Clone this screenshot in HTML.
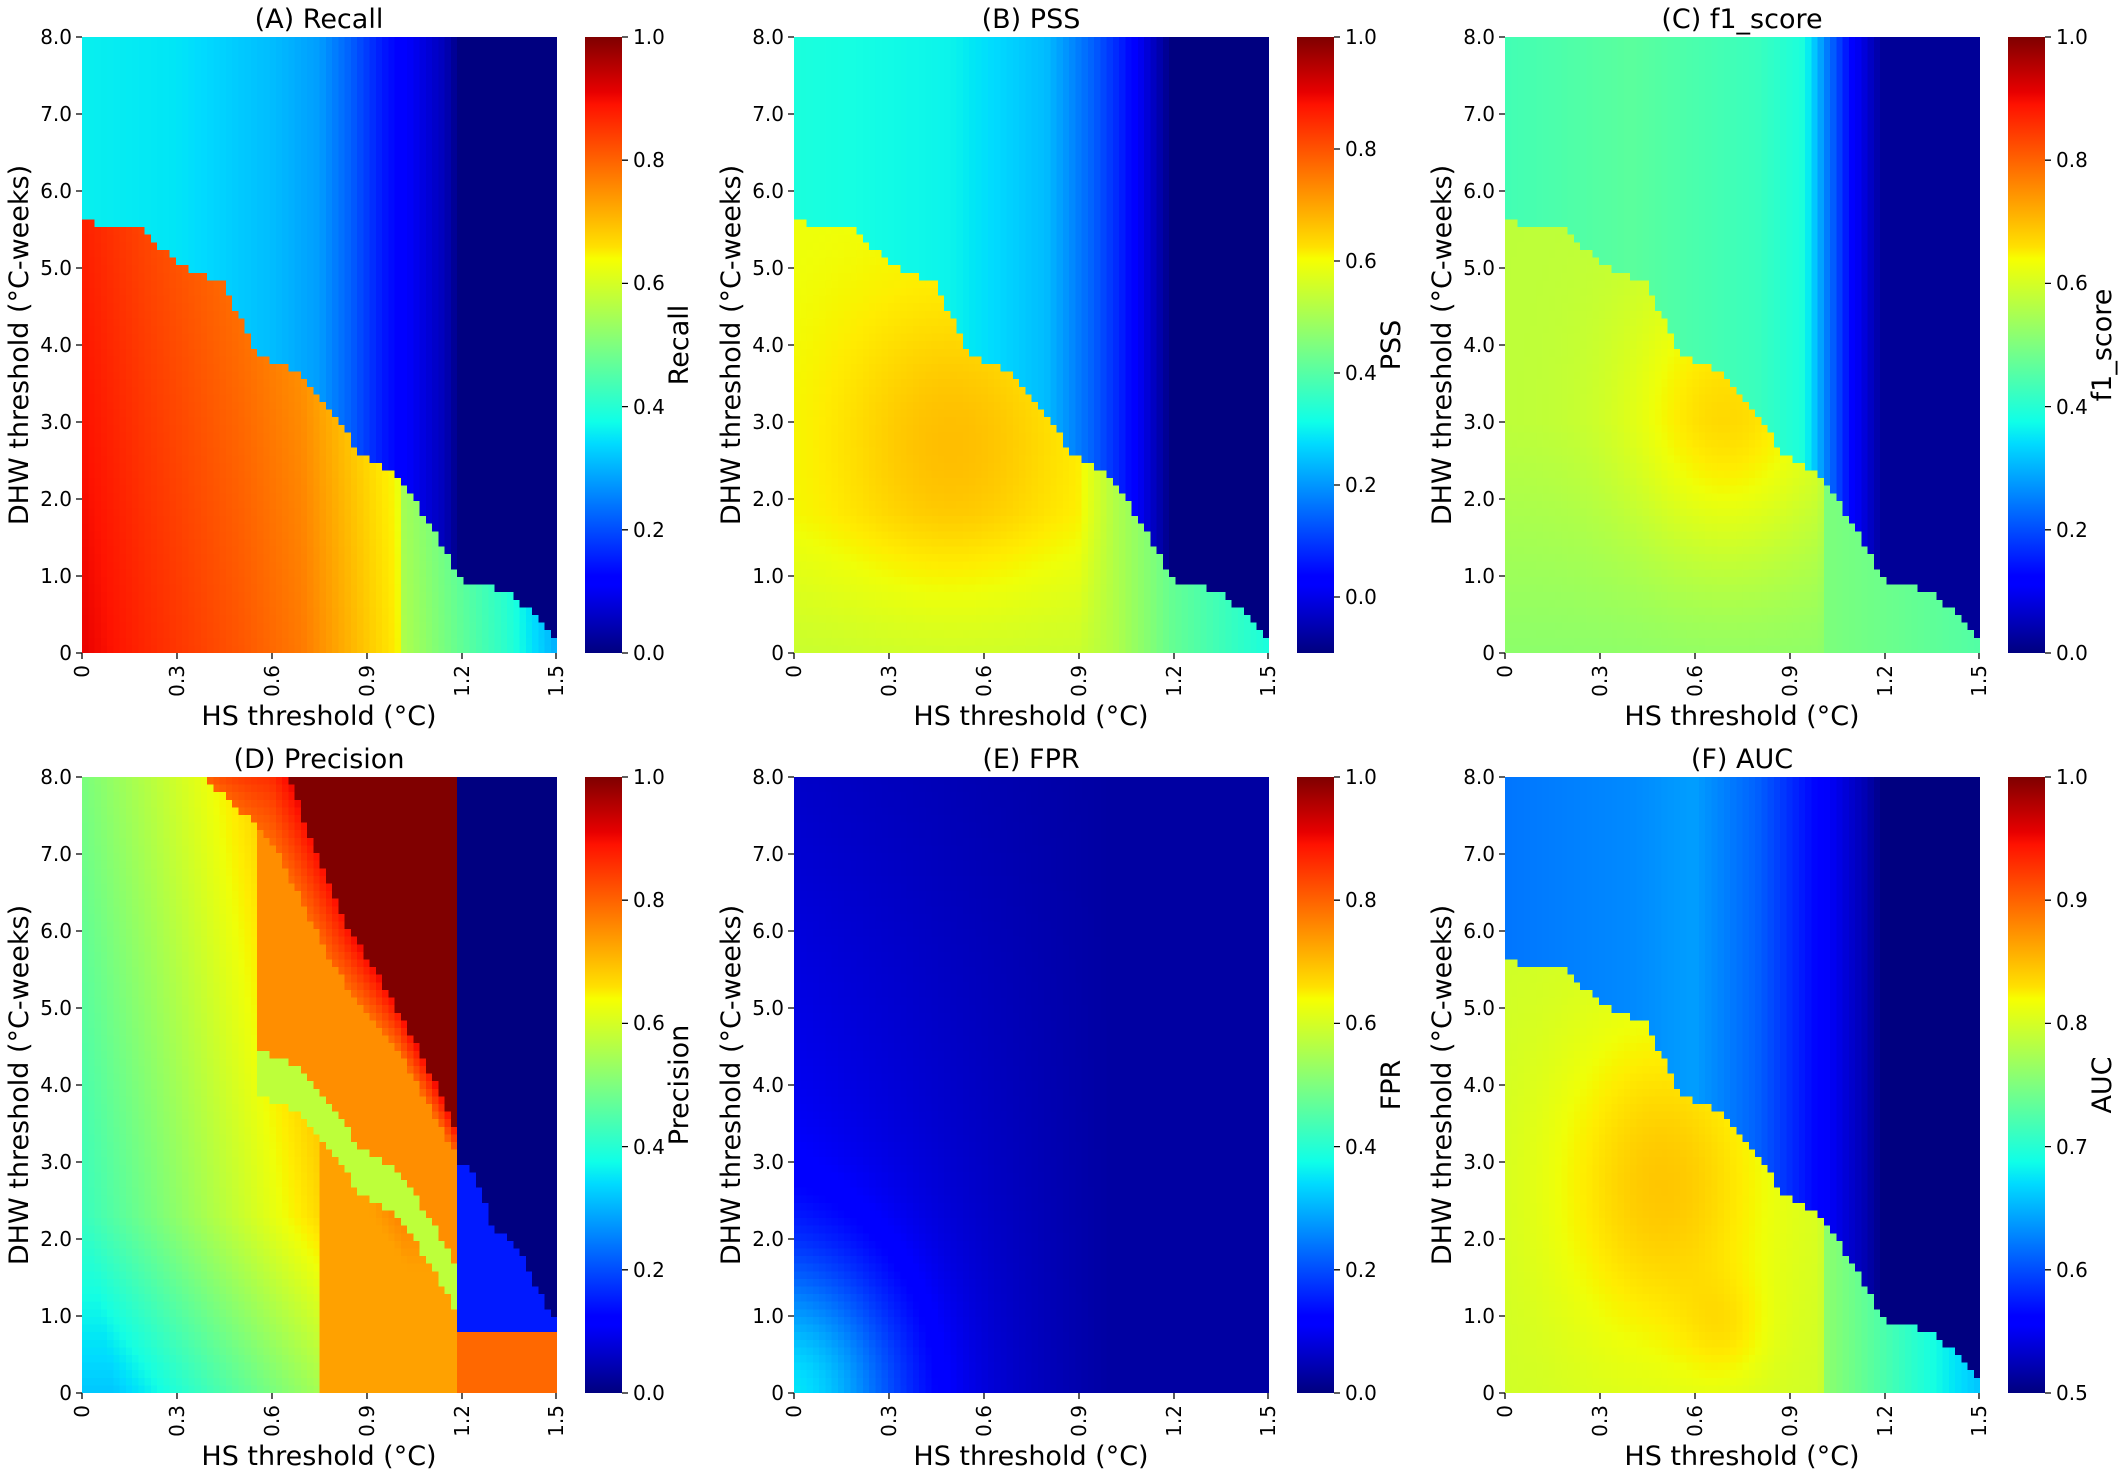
<!DOCTYPE html>
<html><head><meta charset="utf-8">
<style>
body{margin:0;background:#fff;width:2120px;height:1480px;overflow:hidden;position:relative;font-family:"Liberation Sans","DejaVu Sans",sans-serif}
canvas{position:absolute;image-rendering:pixelated;width:475px;height:616px}
.cb{position:absolute;width:37px;height:616px;background:linear-gradient(to top,#00007f 0%,#0000ff 11%,#0000ff 12.5%,#00dbff 34%,#0fffe8 37.5%,#7fff7f 50%,#f7ff00 64%,#ffe000 66%,#ff1200 89%,#e80000 91%,#7f0000 100%)}
svg{position:absolute;left:0;top:0}
text{font-family:"DejaVu Sans","Liberation Sans",sans-serif;fill:#000}
.t{font-size:20px}
.l{font-size:27px}
</style></head><body>
<canvas id="cA" width="76" height="81" style="left:82px;top:37px"></canvas>
<canvas id="cB" width="76" height="81" style="left:794px;top:37px"></canvas>
<canvas id="cC" width="76" height="81" style="left:1505px;top:37px"></canvas>
<canvas id="cD" width="76" height="81" style="left:82px;top:777px"></canvas>
<canvas id="cE" width="76" height="81" style="left:794px;top:777px"></canvas>
<canvas id="cF" width="76" height="81" style="left:1505px;top:777px"></canvas>
<div class="cb" style="left:585px;top:37px"></div>
<div class="cb" style="left:1297px;top:37px"></div>
<div class="cb" style="left:2008px;top:37px"></div>
<div class="cb" style="left:585px;top:777px"></div>
<div class="cb" style="left:1297px;top:777px"></div>
<div class="cb" style="left:2008px;top:777px"></div>
<svg width="2120" height="1480">
<defs>
<g id="ax" stroke="#000" stroke-width="1.3">
<path d="M0 0h-6M0 77h-6M0 154h-6M0 231h-6M0 308h-6M0 385h-6M0 462h-6M0 539h-6M0 616h-6"/>
<path d="M0 616v6M95 616v6M190 616v6M285 616v6M380 616v6M474 616v6"/>
</g>
<g id="cbt6" stroke="#000" stroke-width="1.3"><path d="M540 0h6M540 123.2h6M540 246.4h6M540 369.6h6M540 492.8h6M540 616h6"/></g>
<g id="cbtB" stroke="#000" stroke-width="1.3"><path d="M540 0h6M540 112h6M540 224h6M540 336h6M540 448h6M540 560h6"/></g>
</defs>
<g transform="translate(82,37)"><use href="#ax"/><use href="#cbt6"/>
<g class="t" text-anchor="end"><text x="-10" y="7">8.0</text><text x="-10" y="84">7.0</text><text x="-10" y="161">6.0</text><text x="-10" y="238">5.0</text><text x="-10" y="315">4.0</text><text x="-10" y="392">3.0</text><text x="-10" y="469">2.0</text><text x="-10" y="546">1.0</text><text x="-10" y="623">0</text></g>
<g class="t" text-anchor="end"><text transform="translate(7,628) rotate(-90)">0</text><text transform="translate(102,628) rotate(-90)">0.3</text><text transform="translate(197,628) rotate(-90)">0.6</text><text transform="translate(292,628) rotate(-90)">0.9</text><text transform="translate(387,628) rotate(-90)">1.2</text><text transform="translate(481,628) rotate(-90)">1.5</text></g>
<g class="t"><text x="551" y="7">1.0</text><text x="551" y="130">0.8</text><text x="551" y="253">0.6</text><text x="551" y="377">0.4</text><text x="551" y="500">0.2</text><text x="551" y="623">0.0</text></g>
<text class="l" x="237" y="-9" text-anchor="middle">(A) Recall</text>
<text class="l" x="237" y="688" text-anchor="middle">HS threshold (°C)</text>
<text class="l" text-anchor="middle" transform="translate(-54,308) rotate(-90)">DHW threshold (°C-weeks)</text>
<text class="l" text-anchor="middle" transform="translate(606,308) rotate(-90)">Recall</text>
</g>

<g transform="translate(794,37)"><use href="#ax"/><use href="#cbtB"/>
<g class="t" text-anchor="end"><text x="-10" y="7">8.0</text><text x="-10" y="84">7.0</text><text x="-10" y="161">6.0</text><text x="-10" y="238">5.0</text><text x="-10" y="315">4.0</text><text x="-10" y="392">3.0</text><text x="-10" y="469">2.0</text><text x="-10" y="546">1.0</text><text x="-10" y="623">0</text></g>
<g class="t" text-anchor="end"><text transform="translate(7,628) rotate(-90)">0</text><text transform="translate(102,628) rotate(-90)">0.3</text><text transform="translate(197,628) rotate(-90)">0.6</text><text transform="translate(292,628) rotate(-90)">0.9</text><text transform="translate(387,628) rotate(-90)">1.2</text><text transform="translate(481,628) rotate(-90)">1.5</text></g>
<g class="t"><text x="551" y="7">1.0</text><text x="551" y="119">0.8</text><text x="551" y="231">0.6</text><text x="551" y="343">0.4</text><text x="551" y="455">0.2</text><text x="551" y="567">0.0</text></g>
<text class="l" x="237" y="-9" text-anchor="middle">(B) PSS</text>
<text class="l" x="237" y="688" text-anchor="middle">HS threshold (°C)</text>
<text class="l" text-anchor="middle" transform="translate(-54,308) rotate(-90)">DHW threshold (°C-weeks)</text>
<text class="l" text-anchor="middle" transform="translate(606,308) rotate(-90)">PSS</text>
</g>

<g transform="translate(1505,37)"><use href="#ax"/><use href="#cbt6"/>
<g class="t" text-anchor="end"><text x="-10" y="7">8.0</text><text x="-10" y="84">7.0</text><text x="-10" y="161">6.0</text><text x="-10" y="238">5.0</text><text x="-10" y="315">4.0</text><text x="-10" y="392">3.0</text><text x="-10" y="469">2.0</text><text x="-10" y="546">1.0</text><text x="-10" y="623">0</text></g>
<g class="t" text-anchor="end"><text transform="translate(7,628) rotate(-90)">0</text><text transform="translate(102,628) rotate(-90)">0.3</text><text transform="translate(197,628) rotate(-90)">0.6</text><text transform="translate(292,628) rotate(-90)">0.9</text><text transform="translate(387,628) rotate(-90)">1.2</text><text transform="translate(481,628) rotate(-90)">1.5</text></g>
<g class="t"><text x="551" y="7">1.0</text><text x="551" y="130">0.8</text><text x="551" y="253">0.6</text><text x="551" y="377">0.4</text><text x="551" y="500">0.2</text><text x="551" y="623">0.0</text></g>
<text class="l" x="237" y="-9" text-anchor="middle">(C) f1_score</text>
<text class="l" x="237" y="688" text-anchor="middle">HS threshold (°C)</text>
<text class="l" text-anchor="middle" transform="translate(-54,308) rotate(-90)">DHW threshold (°C-weeks)</text>
<text class="l" text-anchor="middle" transform="translate(606,308) rotate(-90)">f1_score</text>
</g>

<g transform="translate(82,777)"><use href="#ax"/><use href="#cbt6"/>
<g class="t" text-anchor="end"><text x="-10" y="7">8.0</text><text x="-10" y="84">7.0</text><text x="-10" y="161">6.0</text><text x="-10" y="238">5.0</text><text x="-10" y="315">4.0</text><text x="-10" y="392">3.0</text><text x="-10" y="469">2.0</text><text x="-10" y="546">1.0</text><text x="-10" y="623">0</text></g>
<g class="t" text-anchor="end"><text transform="translate(7,628) rotate(-90)">0</text><text transform="translate(102,628) rotate(-90)">0.3</text><text transform="translate(197,628) rotate(-90)">0.6</text><text transform="translate(292,628) rotate(-90)">0.9</text><text transform="translate(387,628) rotate(-90)">1.2</text><text transform="translate(481,628) rotate(-90)">1.5</text></g>
<g class="t"><text x="551" y="7">1.0</text><text x="551" y="130">0.8</text><text x="551" y="253">0.6</text><text x="551" y="377">0.4</text><text x="551" y="500">0.2</text><text x="551" y="623">0.0</text></g>
<text class="l" x="237" y="-9" text-anchor="middle">(D) Precision</text>
<text class="l" x="237" y="688" text-anchor="middle">HS threshold (°C)</text>
<text class="l" text-anchor="middle" transform="translate(-54,308) rotate(-90)">DHW threshold (°C-weeks)</text>
<text class="l" text-anchor="middle" transform="translate(606,308) rotate(-90)">Precision</text>
</g>

<g transform="translate(794,777)"><use href="#ax"/><use href="#cbt6"/>
<g class="t" text-anchor="end"><text x="-10" y="7">8.0</text><text x="-10" y="84">7.0</text><text x="-10" y="161">6.0</text><text x="-10" y="238">5.0</text><text x="-10" y="315">4.0</text><text x="-10" y="392">3.0</text><text x="-10" y="469">2.0</text><text x="-10" y="546">1.0</text><text x="-10" y="623">0</text></g>
<g class="t" text-anchor="end"><text transform="translate(7,628) rotate(-90)">0</text><text transform="translate(102,628) rotate(-90)">0.3</text><text transform="translate(197,628) rotate(-90)">0.6</text><text transform="translate(292,628) rotate(-90)">0.9</text><text transform="translate(387,628) rotate(-90)">1.2</text><text transform="translate(481,628) rotate(-90)">1.5</text></g>
<g class="t"><text x="551" y="7">1.0</text><text x="551" y="130">0.8</text><text x="551" y="253">0.6</text><text x="551" y="377">0.4</text><text x="551" y="500">0.2</text><text x="551" y="623">0.0</text></g>
<text class="l" x="237" y="-9" text-anchor="middle">(E) FPR</text>
<text class="l" x="237" y="688" text-anchor="middle">HS threshold (°C)</text>
<text class="l" text-anchor="middle" transform="translate(-54,308) rotate(-90)">DHW threshold (°C-weeks)</text>
<text class="l" text-anchor="middle" transform="translate(606,308) rotate(-90)">FPR</text>
</g>

<g transform="translate(1505,777)"><use href="#ax"/><use href="#cbt6"/>
<g class="t" text-anchor="end"><text x="-10" y="7">8.0</text><text x="-10" y="84">7.0</text><text x="-10" y="161">6.0</text><text x="-10" y="238">5.0</text><text x="-10" y="315">4.0</text><text x="-10" y="392">3.0</text><text x="-10" y="469">2.0</text><text x="-10" y="546">1.0</text><text x="-10" y="623">0</text></g>
<g class="t" text-anchor="end"><text transform="translate(7,628) rotate(-90)">0</text><text transform="translate(102,628) rotate(-90)">0.3</text><text transform="translate(197,628) rotate(-90)">0.6</text><text transform="translate(292,628) rotate(-90)">0.9</text><text transform="translate(387,628) rotate(-90)">1.2</text><text transform="translate(481,628) rotate(-90)">1.5</text></g>
<g class="t"><text x="551" y="7">1.0</text><text x="551" y="130">0.9</text><text x="551" y="253">0.8</text><text x="551" y="377">0.7</text><text x="551" y="500">0.6</text><text x="551" y="623">0.5</text></g>
<text class="l" x="237" y="-9" text-anchor="middle">(F) AUC</text>
<text class="l" x="237" y="688" text-anchor="middle">HS threshold (°C)</text>
<text class="l" text-anchor="middle" transform="translate(-54,308) rotate(-90)">DHW threshold (°C-weeks)</text>
<text class="l" text-anchor="middle" transform="translate(606,308) rotate(-90)">AUC</text>
</g>
</svg>
<script>
function cl(v){return v<0?0:v>1?1:v}
function interp(pts,x){if(x<=pts[0][0])return pts[0][1];for(var i=1;i<pts.length;i++){if(x<=pts[i][0]){var a=pts[i-1],b=pts[i];return a[1]+(b[1]-a[1])*(x-a[0])/(b[0]-a[0]);}}return pts[pts.length-1][1]}
var JR=[[0,0],[0.35,0],[0.66,1],[0.89,1],[1,0.5]],JG=[[0,0],[0.125,0],[0.375,1],[0.64,1],[0.91,0],[1,0]],JB=[[0,0.5],[0.11,1],[0.34,1],[0.65,0],[1,0]];
function jet(t){t=cl(t);return [interp(JR,t),interp(JG,t),interp(JB,t)].map(function(c){return Math.round(c*255)})}
var BND=[[0,5.6],[0.2,5.5],[0.3,5.05],[0.45,4.8],[0.55,3.9],[0.7,3.6],[0.8,3.1],[0.88,2.6],[1.0,2.3],[1.1,1.7],[1.2,0.95],[1.35,0.8],[1.45,0.45],[1.5,0.2]];
function below(x,y){return y<interp(BND,x)}
function g(x,y,cx,cy,sx,sy){return Math.exp(-((x-cx)*(x-cx)/sx+(y-cy)*(y-cy)/sy))}
var F={
A:function(x,y){if(below(x,y))return interp([[0,.91],[.2,.87],[.5,.82],[.7,.78],[.85,.72],[1.0,.66],[1.02,.56],[1.2,.47],[1.35,.4],[1.5,.3]],x)-0.03*y/5;
 return interp([[0,.36],[.3,.35],[.6,.31],[.75,.28],[.85,.22],[.95,.15],[1.05,.1],[1.15,.05],[1.2,0]],x);},
B:function(x,y){var v;if(below(x,y)){v=0.6+0.08*g(x,y,0.5,2.7,0.15,4)-0.05*cl((1.8-y)/1.8);if(x>0.9)v=interp([[0.9,v],[1.02,.52],[1.2,.42],[1.5,.32]],x);}
 else v=interp([[0,.32],[.5,.3],[.8,.24],[.95,.14],[1.05,.06],[1.2,-.1]],x);return (v+0.1)/1.1;},
C:function(x,y){if(below(x,y)){var v=0.52+0.06*cl(y/3)+0.1*g(x,y,0.7,3,0.1,4);if(x>1.0)v=interp([[1,v],[1.02,.5],[1.5,.45]],x);return v;}
 return interp([[0,.43],[.4,.46],[.8,.42],[.95,.38],[1.02,.25],[1.1,.12],[1.2,.02]],x);},
D:function(x,y){
 if(x>=1.2&&y>interp([[1.2,3.0],[1.25,2.8],[1.3,2.2],[1.4,1.8],[1.45,1.3],[1.5,1.0]],x))return 0;
 var r1=interp([[0.3,8.3],[0.6,7.2],[0.8,5.5],[1.0,4.5],[1.2,3.0]],x),r2=interp([[0.6,8.5],[0.65,8],[0.85,6],[1.0,5],[1.1,4.2],[1.2,3.3]],x);
 if(x<1.2&&y>r2)return 1.0;
 if(x<1.2&&y>r1)return 0.8+0.1*(y-r1)/(r2-r1+0.01);
 if(x>1.2&&y>0.8)return 0.15;
 if(x>1.2)return 0.8;
 var v=0.32+0.1*cl(y/2.3)+0.35*cl((x+0.04*y-0.1)/1.0);
 var b=interp(BND,x);
 if(y<b&&x>0.75)v=Math.max(v,0.74);
 if(y>=b&&x>0.55){v=(y-b<0.6)?0.58:0.76;}
 return Math.min(v,0.8);},
E:function(x,y){return 0.03+0.1*cl(1-x/1.0)*cl(1-y/12)+0.22*g(x,y,0,0,0.12,3)},
F:function(x,y){var v;if(below(x,y)){v=0.8+0.05*g(x,y,0.5,2.7,0.12,5)+0.02*g(x,y,0.7,0.8,0.02,0.5);if(x>1.0)v=interp([[1,v],[1.02,.76],[1.3,.7],[1.5,.66]],x);}
 else v=interp([[0,.62],[.4,.63],[.6,.64],[.8,.61],[1.0,.56],[1.15,.52],[1.2,.5]],x);return (v-0.5)/0.5;}
};
["A","B","C","D","E","F"].forEach(function(k){var c=document.getElementById("c"+k),ctx=c.getContext("2d"),im=ctx.createImageData(76,81);
for(var j=0;j<81;j++)for(var i=0;i<76;i++){var x=(i+0.5)*1.5/75.6,y=(80-j+0.5)*8/81;var col=jet(F[k](x,y));var p=(j*76+i)*4;im.data[p]=col[0];im.data[p+1]=col[1];im.data[p+2]=col[2];im.data[p+3]=255;}
ctx.putImageData(im,0,0);});
</script>
</body></html>
